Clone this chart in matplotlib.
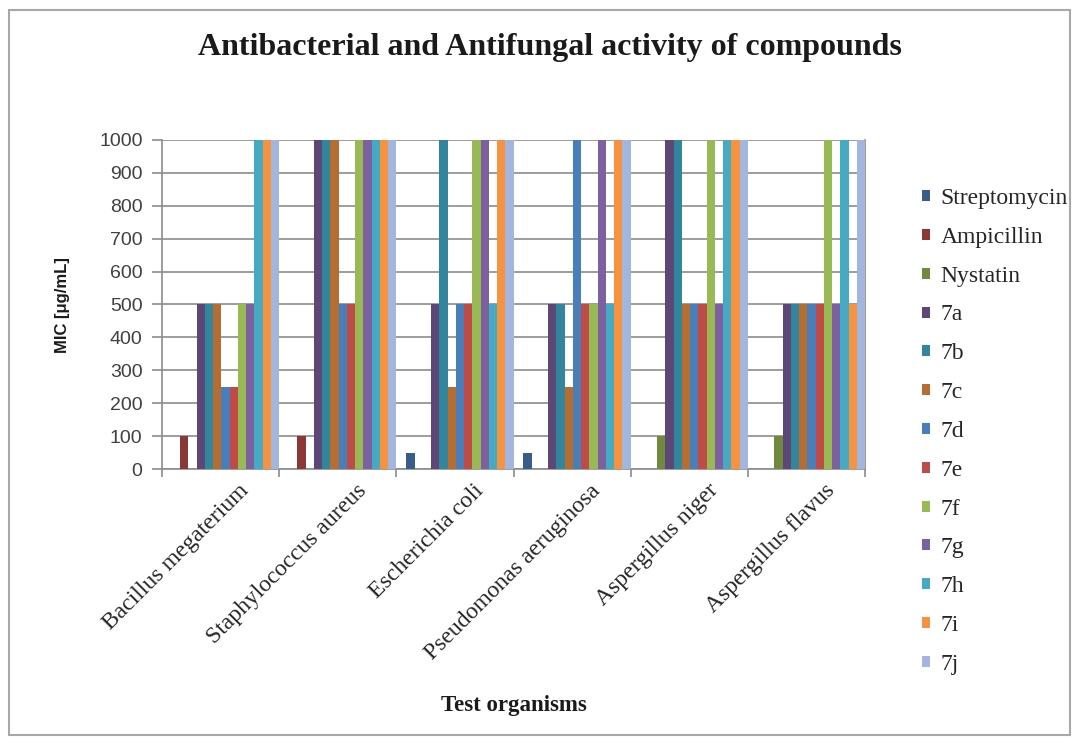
import matplotlib
matplotlib.use("Agg")
import matplotlib.pyplot as plt
from matplotlib.patches import Rectangle
from matplotlib.transforms import ScaledTranslation
import numpy as np

categories = ["Bacillus megaterium", "Staphylococcus aureus", "Escherichia coli",
              "Pseudomonas aeruginosa", "Aspergillus niger", "Aspergillus flavus"]
series_names = ["Streptomycin", "Ampicillin", "Nystatin", "7a", "7b", "7c", "7d",
                "7e", "7f", "7g", "7h", "7i", "7j"]
streptomycin = [0, 0, 50, 50, 0, 0]
ampicillin = [100, 100, 0, 0, 0, 0]
nystatin = [0, 0, 0, 0, 100, 100]
c7a = [500, 1000, 500, 500, 1000, 500]
c7b = [500, 1000, 1000, 500, 1000, 500]
c7c = [500, 1000, 250, 250, 500, 500]
c7d = [250, 500, 500, 1000, 500, 500]
c7e = [250, 500, 500, 500, 500, 500]
c7f = [500, 1000, 1000, 500, 1000, 1000]
c7g = [500, 1000, 1000, 1000, 500, 500]
c7h = [1000, 1000, 500, 500, 1000, 1000]
c7i = [1000, 1000, 1000, 1000, 1000, 500]
c7j = [1000, 1000, 1000, 1000, 1000, 1000]
values = [streptomycin, ampicillin, nystatin, c7a, c7b, c7c, c7d, c7e, c7f,
          c7g, c7h, c7i, c7j]
yticks = [0, 100, 200, 300, 400, 500, 600, 700, 800, 900, 1000]

colors = ["#385D8A", "#8C3836", "#71893F", "#5C4776", "#31859C", "#B66D31",
          "#4A7EBB", "#BE4B48", "#98B954", "#7D60A0", "#46AAC5", "#F69240",
          "#A2B6DF"]

fig = plt.figure(figsize=(10.77, 7.46), dpi=100)
fig.patches.append(Rectangle((9/1077, 1-735/746), (1070-9)/1077, (735-10)/746,
                             transform=fig.transFigure, fill=False,
                             edgecolor="#a8a8a8", lw=1.5))
ax = fig.add_axes([162/1077, 1-469/746, (865-162)/1077, (469-140)/746])

n = len(categories)
off = 0.085
w = (1.0 - off) / len(series_names)
x = np.arange(n)
for j, (name, vals, col) in enumerate(zip(series_names, values, colors)):
    ax.bar(x + off + j*w, vals, width=w, align="edge", color=col,
           label=name, zorder=3, linewidth=0)

ax.set_xlim(0, n)
ax.set_ylim(0, 1000)
ax.set_yticks(yticks)
ax.set_yticklabels([str(v) for v in yticks], fontsize=14,
                   family="Liberation Sans", color="#404040")
ax.yaxis.grid(True, color="#8c8c8c", lw=1.2, zorder=0)
ax.tick_params(axis="y", length=7, color="#8c8c8c", pad=7, width=1.2)

ax.set_xticks(x + 0.5)
ax.set_xticklabels(categories, rotation=45, ha="right", va="top",
                   rotation_mode="anchor", fontsize=17,
                   family="Liberation Serif", color="#262626")
ax.tick_params(axis="x", which="major", length=0, pad=8)
shift = ScaledTranslation(18/100, 0, fig.dpi_scale_trans)
for lab in ax.get_xticklabels():
    lab.set_transform(lab.get_transform() + shift)
ax.set_xticks(np.arange(n+1), minor=True)
ax.tick_params(axis="x", which="minor", length=6, color="#8c8c8c", width=1.2)

ax.spines["top"].set_visible(False)
for s in ["left", "bottom", "right"]:
    ax.spines[s].set_color("#8c8c8c")
    ax.spines[s].set_linewidth(1.2)

fig.text(550/1077, 1-47/746, "Antibacterial and Antifungal activity of compounds",
         ha="center", va="center", fontsize=23, fontweight="bold",
         family="Liberation Serif", color="#1a1a1a")
fig.text(514/1077, 1-705/746, "Test organisms", ha="center", va="center",
         fontsize=16.5, fontweight="bold", family="Liberation Serif", color="#1a1a1a")
fig.text(62/1077, 1-305/746, "MIC [μg/mL]", ha="center", va="center",
         rotation=90, fontsize=12, fontweight="bold",
         family="Liberation Sans", color="#1a1a1a")

leg = ax.legend(loc="upper left", bbox_to_anchor=(922/1077, 1-188/746),
                bbox_transform=fig.transFigure, frameon=False,
                prop={"family": "Liberation Serif", "size": 17},
                handlelength=0.34, handleheight=0.34, handletextpad=0.45,
                labelspacing=0.755, borderaxespad=0, borderpad=0)
for t in leg.get_texts():
    t.set_color("#262626")

fig.savefig("out.png", dpi=100)
